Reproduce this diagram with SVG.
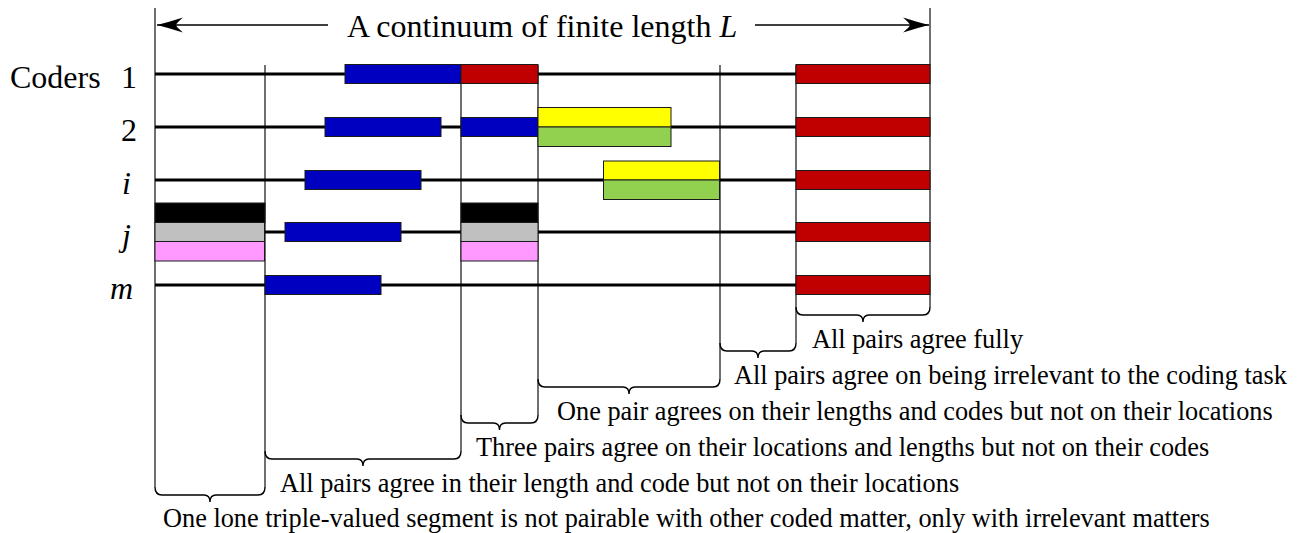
<svg xmlns="http://www.w3.org/2000/svg" width="1311" height="533" viewBox="0 0 1311 533">
<style>
  .title{font-size:32px}
  .lab{font-size:32px}
  .it{font-style:italic}
  .note{font-size:26.3px}
  .row{stroke:#000;stroke-width:3.2;fill:none}
  .vl{stroke:#222;stroke-width:1.3;fill:none}
  .br{stroke:#000;stroke-width:1.4;fill:none}
  .ar{stroke:#000;stroke-width:1.3;fill:none}
  .bar{stroke:#1a1a1a;stroke-width:1}
  .blue{fill:#0000C0}
  .red{fill:#C00000}
  .yel{fill:#FFFF00}
  .grn{fill:#92D050}
  .blk{fill:#000}
  .gry{fill:#C0C0C0}
  .pnk{fill:#FF99FF}
</style>
<defs>
  <marker id="ah" viewBox="-28 -9 30 18" refX="0" refY="0" markerWidth="30" markerHeight="18" orient="auto-start-reverse" markerUnits="userSpaceOnUse">
    <path d="M0,0 Q-12,-3 -26,-7.5 Q-19,-1.5 -19,0 Q-19,1.5 -26,7.5 Q-12,3 0,0 Z" fill="#000"/>
  </marker>
</defs>
<rect width="1311" height="533" fill="#fff"/>

<g id="title" font-family="Liberation Serif, Times New Roman, serif">
  <text class="title" x="347" y="37">A continuum of finite length <tspan class="it">L</tspan></text>
</g>

<g id="connectors">
  <line class="ar" x1="328" y1="25" x2="157" y2="25" marker-end="url(#ah)"/>
  <line class="ar" x1="755" y1="25" x2="929" y2="25" marker-end="url(#ah)"/>
  <line class="vl" x1="155" y1="8" x2="155" y2="487"/>
  <line class="vl" x1="265" y1="65" x2="265" y2="487"/>
  <line class="vl" x1="461" y1="65" x2="461" y2="451"/>
  <line class="vl" x1="538" y1="65" x2="538" y2="415"/>
  <line class="vl" x1="720" y1="65" x2="720" y2="379"/>
  <line class="vl" x1="796" y1="65" x2="796" y2="343"/>
  <line class="vl" x1="930" y1="8" x2="930" y2="307"/>
  <path class="br" d="M155,487 Q155,495 162,495 L204,495 Q210,495 210,502 Q210,495 216,495 L258,495 Q265,495 265,487"/>
  <path class="br" d="M265,451 Q265,459 272,459 L357,459 Q363,459 363,466 Q363,459 369,459 L454,459 Q461,459 461,451"/>
  <path class="br" d="M461,415 Q461,423 468,423 L493.5,423 Q499.5,423 499.5,430 Q499.5,423 505.5,423 L531,423 Q538,423 538,415"/>
  <path class="br" d="M538,379 Q538,387 545,387 L623,387 Q629,387 629,394 Q629,387 635,387 L713,387 Q720,387 720,379"/>
  <path class="br" d="M720,343 Q720,351 727,351 L752,351 Q758,351 758,358 Q758,351 764,351 L789,351 Q796,351 796,343"/>
  <path class="br" d="M796,307 Q796,315 803,315 L857,315 Q863,315 863,322 Q863,315 869,315 L923,315 Q930,315 930,307"/>
</g>

<g id="labels" font-family="Liberation Serif, Times New Roman, serif">
  <text class="lab" x="10" y="88">Coders</text>
  <text class="lab" x="137" y="88" text-anchor="end">1</text>
  <text class="lab" x="137" y="141" text-anchor="end">2</text>
  <text class="lab it" x="131" y="194" text-anchor="end">i</text>
  <text class="lab it" x="131" y="246" text-anchor="end">j</text>
  <text class="lab it" x="133" y="299" text-anchor="end">m</text>
</g>

<g id="row-1">
  <line class="row" x1="155" y1="74" x2="930" y2="74"/>
  <rect class="bar blue" x="345" y="64.5" width="116" height="19"/>
  <rect class="bar red" x="461" y="64.5" width="77" height="19"/>
  <rect class="bar red" x="796" y="64.5" width="134" height="19"/>
</g>

<g id="row-2">
  <line class="row" x1="155" y1="127" x2="930" y2="127"/>
  <rect class="bar blue" x="325" y="117.5" width="116" height="19"/>
  <rect class="bar blue" x="461" y="117.5" width="77" height="19"/>
  <rect class="bar yel" x="538" y="107.5" width="133" height="19.5"/>
  <rect class="bar grn" x="538" y="127" width="133" height="19.5"/>
  <rect class="bar red" x="796" y="117.5" width="134" height="19"/>
</g>

<g id="row-i">
  <line class="row" x1="155" y1="180" x2="930" y2="180"/>
  <rect class="bar blue" x="305" y="170.5" width="116" height="19"/>
  <rect class="bar yel" x="603.5" y="161" width="116" height="19"/>
  <rect class="bar grn" x="603.5" y="180" width="116" height="19.5"/>
  <rect class="bar red" x="796" y="170.5" width="134" height="19"/>
</g>

<g id="row-j">
  <line class="row" x1="155" y1="232" x2="930" y2="232"/>
  <rect class="bar blk" x="155" y="203" width="110" height="19.5"/>
  <rect class="bar gry" x="155" y="222.5" width="109.5" height="19"/>
  <rect class="bar pnk" x="155" y="241.5" width="109.5" height="19.5"/>
  <rect class="bar blue" x="285" y="222.5" width="116" height="19"/>
  <rect class="bar blk" x="461" y="203" width="77" height="19.5"/>
  <rect class="bar gry" x="461" y="222.5" width="77" height="19"/>
  <rect class="bar pnk" x="461" y="241.5" width="77" height="19.5"/>
  <rect class="bar red" x="796" y="222.5" width="134" height="19"/>
</g>

<g id="row-m">
  <line class="row" x1="155" y1="285" x2="930" y2="285"/>
  <rect class="bar blue" x="265" y="275.5" width="116" height="19"/>
  <rect class="bar red" x="796" y="275.5" width="134" height="19"/>
</g>

<g id="notes" font-family="Liberation Serif, Times New Roman, serif">
  <text class="note" x="812" y="348">All pairs agree fully</text>
  <text class="note" x="734" y="384">All pairs agree on being irrelevant to the coding task</text>
  <text class="note" x="557" y="420">One pair agrees on their lengths and codes but not on their locations</text>
  <text class="note" x="476" y="456">Three pairs agree on their locations and lengths but not on their codes</text>
  <text class="note" x="280" y="492">All pairs agree in their length and code but not on their locations</text>
  <text class="note" x="163" y="527">One lone triple-valued segment is not pairable with other coded matter, only with irrelevant matters</text>
</g>
</svg>
